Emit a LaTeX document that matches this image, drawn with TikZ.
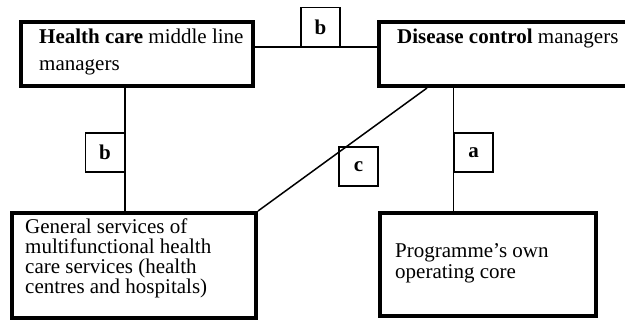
\documentclass[tikz,border=0pt]{standalone}
\usepackage{fontspec}
\setmainfont{Liberation Serif}
\begin{document}
\begin{tikzpicture}[x=1pt,y=-1pt,
  bigbox/.style={draw, line width=4pt, rectangle, inner sep=0pt, anchor=north west},
  labbox/.style={draw, line width=1.2pt, rectangle, inner sep=0pt, minimum size=39pt, font=\fontsize{21}{20}\selectfont\bfseries},
  boxtext/.style={anchor=base west, inner sep=0pt, align=left, font=\fontsize{21}{20}\selectfont},
  conn/.style={line width=1.5pt}]
\path[use as bounding box, clip] (0,0) rectangle (625,325);
% boxes
\node[bigbox, minimum width=232pt, minimum height=64pt] (hc) at (19,20) {};
\node[bigbox, minimum width=260pt, minimum height=64pt] (dc) at (377,20) {};
\node[bigbox, minimum width=244pt, minimum height=105pt] (gs) at (10,211) {};
\node[bigbox, minimum width=216pt, minimum height=103pt] (pc) at (378,211) {};
% texts (base anchor = baseline of the last line)
\node[boxtext, font=\fontsize{21}{27}\selectfont] (hct) at (39,70) {\textbf{Health care} middle line\\managers};
\node[boxtext] (dct) at (397,43) {\textbf{Disease control} managers};
\node[boxtext] (gst) at (25,293) {General services of\\multifunctional health\\care services (health\\centres and hospitals)};
\node[boxtext, font=\fontsize{21}{21}\selectfont] (pct) at (395,278) {Programme’s own\\operating core};
% labels
\node[labbox] (lb1) at (320.5,27) {b};
\node[labbox] (lb2) at (105,152.5) {b};
\node[labbox] (lc) at (358.5,166.5) {c};
\node[labbox] (la) at (473.5,152.5) {a};
% connectors
\coordinate (dcd) at ([xshift=50pt]dc.south west);
\draw[conn] (hc.east |- lb1.south) -- (dc.west |- lb1.south);
\draw[conn] (hc.south -| lb2.east) -- (gs.north -| lb2.east);
\draw[conn] (dc.south -| la.west) -- (pc.north -| la.west);
\draw[conn] (dcd) -- (gs.north east);
\end{tikzpicture}
\end{document}
